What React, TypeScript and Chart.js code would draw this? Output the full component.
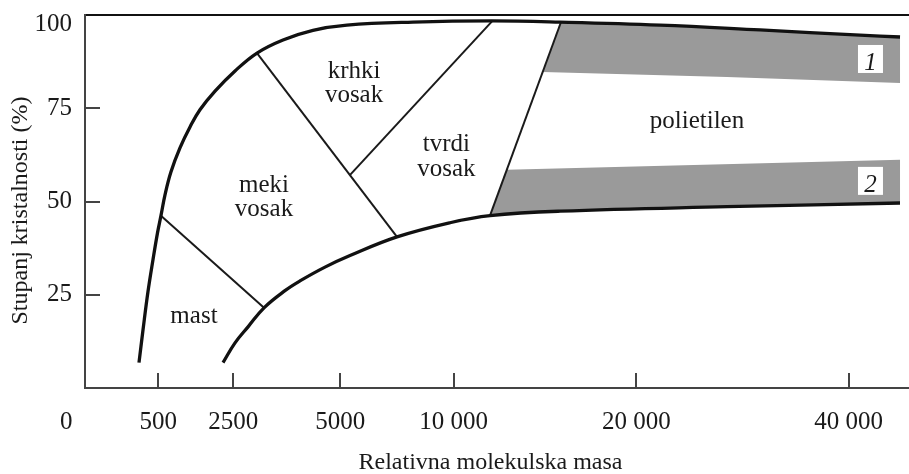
import React, { useEffect, useRef } from 'react';
import { Chart, registerables } from 'chart.js';

Chart.register(...registerables);

const FONT = '"Liberation Serif", "Times New Roman", serif';

// Schematic (non-linear) molecular-mass axis: positions along the axis, 0 = left edge, 100 = right edge
const X_TICK_POS = [0, 8.9, 18.0, 31.0, 44.8, 67.0, 92.8];
const X_TICK_LABELS = ['0', '500', '2500', '5000', '10 000', '20 000', '40 000'];
const Y_TICKS = [25, 50, 75, 100];

const X_TITLE = 'Relativna molekulska masa';
const Y_TITLE = 'Stupanj kristalnosti (%)';

// Upper boundary curve (maximum crystallinity)
const UPPER_X = [6.56, 7.05, 7.65, 8.26, 8.81, 9.23, 9.72, 10.45, 11.54, 12.76, 13.97, 15.8, 18.23, 20.9, 24.06, 27.7, 31.83, 39.85, 49.45, 57.72, 69.87, 82.02, 94.17, 99.03];
const UPPER_Y = [6.8, 15.6, 25.8, 34.4, 41.6, 46.2, 51.8, 58.0, 64.4, 70.0, 74.6, 79.6, 85.0, 89.8, 93.3, 95.9, 97.3, 98.1, 98.4, 98.1, 97.3, 96.0, 94.6, 94.1];

// Lower boundary curve (minimum crystallinity)
const LOWER_X = [16.77, 18.23, 19.81, 21.75, 24.3, 26.12, 29.16, 32.2, 37.91, 44.35, 49.21, 57.72, 78.01, 99.03];
const LOWER_Y = [6.8, 12.1, 16.4, 21.5, 26.1, 28.7, 32.4, 35.5, 40.5, 44.3, 46.2, 47.4, 48.6, 49.6];

// Straight boundaries between regions (start, end)
const BOUNDARY_X = [[9.23, 21.75], [20.9, 37.91], [32.21, 49.45], [49.21, 57.84]];
const BOUNDARY_Y = [[46.2, 21.5], [89.8, 40.5], [57.14, 98.3], [46.2, 98.13]];

// Grey bands 1 and 2 (closed polygons)
const BAND1_X = [57.84, 69.87, 82.02, 94.17, 99.03, 99.03, 78.01, 55.65];
const BAND1_Y = [98.13, 97.32, 95.98, 94.64, 94.11, 81.78, 83.39, 84.73];
const BAND2_X = [51.28, 99.03, 99.03, 78.01, 57.72, 49.21];
const BAND2_Y = [58.48, 61.16, 49.64, 48.57, 47.36, 46.16];

// Region names, anchored at the baseline of the first line
const REGION_NAMES = [['mast'], ['meki', 'vosak'], ['krhki', 'vosak'], ['tvrdi', 'vosak'], ['polietilen']];
const REGION_X = [13.24, 21.75, 32.69, 43.92, 74.36];
const REGION_Y = [17.49, 52.58, 83.12, 63.43, 69.65];

const BAND_NAMES = ['1', '2'];
const BAND_LABEL_X = [95.44, 95.44];
const BAND_LABEL_Y = [88.21, 55.53];

const zip = (xs: number[], ys: number[]) => xs.map((x, i) => ({ x, y: ys[i] }));

const labelPlugin = {
  id: 'regionLabels',
  afterDatasetsDraw(chart: any) {
    const { ctx } = chart;
    const xs = chart.scales.x;
    const ys = chart.scales.y;
    ctx.save();
    ctx.fillStyle = '#1a1a1a';
    ctx.textAlign = 'center';
    ctx.textBaseline = 'alphabetic';
    ctx.font = `25px ${FONT}`;
    REGION_NAMES.forEach((lines, i) => {
      const px = xs.getPixelForValue(REGION_X[i]);
      const py = ys.getPixelForValue(REGION_Y[i]);
      lines.forEach((t, j) => ctx.fillText(t, px, py + j * 24.5));
    });
    BAND_NAMES.forEach((t, i) => {
      const px = xs.getPixelForValue(BAND_LABEL_X[i]);
      const py = ys.getPixelForValue(BAND_LABEL_Y[i]);
      ctx.fillStyle = '#ffffff';
      ctx.fillRect(px - 12.5, py - 14, 25, 28);
      ctx.fillStyle = '#1a1a1a';
      ctx.font = `italic 25px ${FONT}`;
      ctx.fillText(t, px, py + 11);
    });
    ctx.restore();
  },
};

export default function App() {
  const ref = useRef<HTMLCanvasElement | null>(null);

  useEffect(() => {
    if (!ref.current) return;
    const curve = (data: any[], w: number) => ({
      data,
      borderColor: '#111111',
      borderWidth: w,
      pointRadius: 0,
      fill: false,
      tension: 0.4,
      xAxisID: 'x',
      yAxisID: 'y',
    });
    const straight = (data: any[]) => ({
      data,
      borderColor: '#1a1a1a',
      borderWidth: 2,
      pointRadius: 0,
      fill: false,
      tension: 0,
      xAxisID: 'x',
      yAxisID: 'y',
    });
    const band = (data: any[]) => ({
      data,
      borderColor: 'rgba(0,0,0,0)',
      borderWidth: 0,
      backgroundColor: '#9a9a9a',
      pointRadius: 0,
      fill: 'shape',
      tension: 0,
      xAxisID: 'x',
      yAxisID: 'y',
    });

    const datasets: any[] = [
      curve(zip(UPPER_X, UPPER_Y), 3.3),
      curve(zip(LOWER_X, LOWER_Y), 3.3),
      ...BOUNDARY_X.map((bx, i) => straight(zip(bx, BOUNDARY_Y[i]))),
      band(zip(BAND1_X, BAND1_Y)),
      band(zip(BAND2_X, BAND2_Y)),
    ];

    const chart = new Chart(ref.current, {
      type: 'line',
      data: { datasets },
      plugins: [labelPlugin],
      options: {
        animation: false,
        responsive: false,
        events: [],
        layout: { padding: { top: 15, right: 1, bottom: 0, left: 0 } },
        plugins: { legend: { display: false }, tooltip: { enabled: false } },
        scales: {
          x: {
            type: 'linear',
            position: 'bottom',
            min: 0,
            max: 100,
            afterBuildTicks: (s: any) => {
              s.ticks = X_TICK_POS.map((v) => ({ value: v }));
            },
            afterFit: (s: any) => {
              s.height = 86;
              s.paddingLeft = 0;
              s.paddingRight = 0;
            },
            ticks: {
              autoSkip: false,
              maxRotation: 0,
              minRotation: 0,
              padding: 34,
              color: '#1a1a1a',
              font: { family: FONT, size: 25 },
              callback: (_v: any, i: number) => (i === 0 ? X_TICK_LABELS[0] + '      ' : X_TICK_LABELS[i]),
            },
            grid: { drawOnChartArea: false, tickLength: -15, color: '#444444', lineWidth: 2 },
            border: { display: true, color: '#444444', width: 2 },
            title: {
              display: true,
              text: X_TITLE + '  ',
              color: '#1a1a1a',
              font: { family: FONT, size: 24 },
              padding: { top: 0, bottom: -3 },
            },
          },
          xTop: {
            type: 'linear',
            axis: 'x',
            position: 'top',
            min: 0,
            max: 100,
            afterFit: (s: any) => {
              s.height = 0;
              s.paddingLeft = 0;
              s.paddingRight = 0;
            },
            ticks: { display: false },
            grid: { display: false, drawTicks: false },
            border: { display: true, color: '#111111', width: 2 },
          },
          y: {
            type: 'linear',
            position: 'left',
            min: 0,
            max: 100,
            afterBuildTicks: (s: any) => {
              s.ticks = Y_TICKS.map((v) => ({ value: v }));
            },
            afterFit: (s: any) => {
              s.width = 85;
              s.paddingTop = 0;
              s.paddingBottom = 0;
            },
            ticks: {
              padding: 28,
              color: '#1a1a1a',
              font: (c: any) =>
                c.tick && c.tick.value === 100
                  ? { family: FONT, size: 25, lineHeight: 0.72 }
                  : { family: FONT, size: 25 },
              callback: (v: any) => (v === 100 ? ['', String(v)] : String(v)),
            },
            grid: { drawOnChartArea: false, tickLength: -15, color: '#444444', lineWidth: 2 },
            border: { display: true, color: '#444444', width: 2 },
            title: {
              display: true,
              text: Y_TITLE + '   ',
              color: '#1a1a1a',
              font: { family: FONT, size: 24 },
              padding: { top: 6, bottom: 0 },
            },
          },
        },
      } as any,
    });
    return () => chart.destroy();
  }, []);

  return (
    <div style={{ position: 'absolute', left: 0, top: 0, width: 909, height: 474 }}>
      <canvas ref={ref} width={909} height={474} style={{ display: 'block' }} />
    </div>
  );
}
